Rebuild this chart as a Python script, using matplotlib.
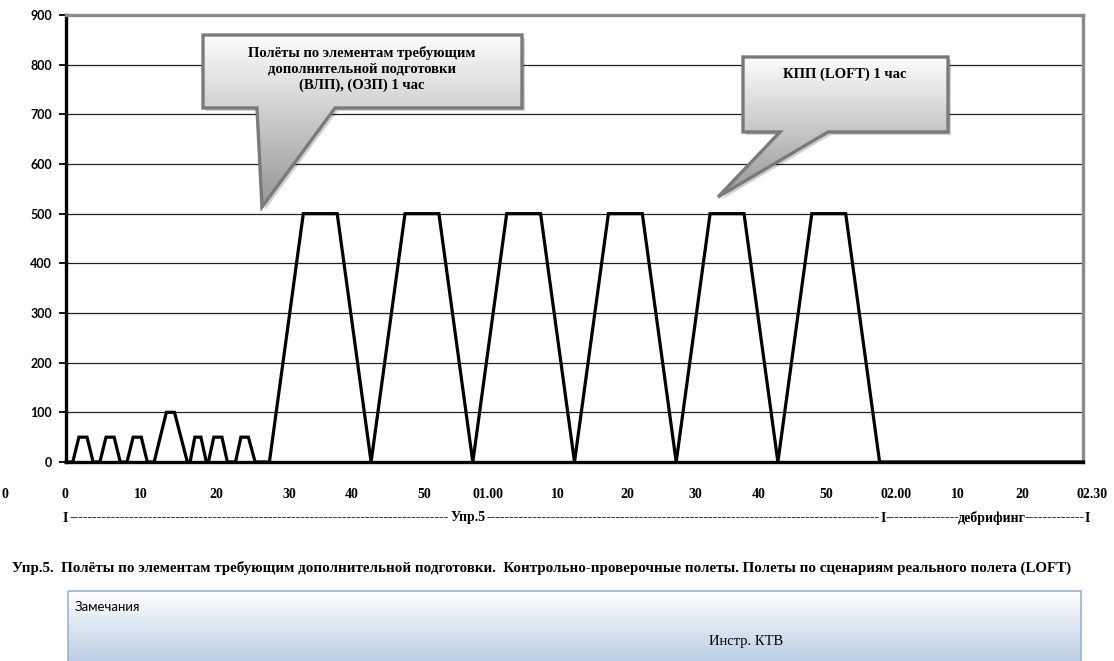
import numpy as np
import matplotlib
matplotlib.use("Agg")
from matplotlib import pyplot as plt
from matplotlib.patches import Polygon, Rectangle

W, H = 1114, 661

# data: simulator load over session time (minutes)
minutes = [0, 1, 1.9, 3.1, 4, 5, 5.9, 7.1, 8, 9, 9.9, 11.1, 12,
           13, 14.8, 16, 17.9, 18.3, 19, 19.9, 20.7, 21, 21.8, 23, 23.8,
           25, 25.8, 26.9, 27.9, 30, 35, 40, 45, 50, 55, 60, 65, 70, 75,
           80, 85, 90, 95, 100, 105, 110, 115, 120, 150]
load = [0, 0, 50, 50, 0, 0, 50, 50, 0, 0, 50, 50, 0,
        0, 100, 100, 0, 0, 50, 50, 0, 0, 50, 50, 0,
        0, 50, 50, 0, 0, 500, 500, 0, 500, 500, 0, 500, 500, 0,
        500, 500, 0, 500, 500, 0, 500, 500, 0, 0]

y_ticks = [0, 100, 200, 300, 400, 500, 600, 700, 800, 900]
time_labels = ["0", "0", "10", "20", "30", "40", "50", "01.00", "10", "20",
               "30", "40", "50", "02.00", "10", "20", "02.30"]
time_label_px = [5, 65, 141, 216, 289, 352, 424, 488, 558, 627,
                 695, 759, 826, 896, 958, 1022, 1092]

callout1 = "Полёты по элементам требующим\nдополнительной подготовки\n(ВЛП), (ОЗП) 1 час"
callout2 = "КПП (LOFT) 1 час"
caption = ("Упр.5.  Полёты по элементам требующим дополнительной подготовки.  "
           "Контрольно-проверочные полеты. Полеты по сценариям реального полета (LOFT)")

SERIF = "Liberation Serif"

fig = plt.figure(figsize=(W / 100, H / 100), dpi=100)
fig.patch.set_facecolor("white")

# main chart
ax = fig.add_axes([66 / W, 1 - 462 / H, (1083 - 66) / W, (462 - 15) / H])
ax.plot(minutes, load, color="black", lw=2.3, solid_joinstyle="miter", zorder=3, clip_on=False)
ax.set_xlim(0, 150)
ax.set_ylim(0, 900)
ax.set_yticks(y_ticks)
ax.set_yticklabels([str(v) for v in y_ticks], fontfamily="Lato", fontweight="bold", fontsize=9)
ax.set_xticks([])
ax.tick_params(axis="y", direction="out", length=5, width=1.3, pad=5, colors="black")
ax.yaxis.grid(True, color="#222222", lw=0.9)
ax.set_axisbelow(True)
for side in ["left", "bottom"]:
    ax.spines[side].set_linewidth(2.4)
    ax.spines[side].set_color("black")
for side in ["right", "top"]:
    ax.spines[side].set_linewidth(2.4)
    ax.spines[side].set_color("#8a8a8a")
ax.spines["bottom"].set_zorder(4)

# overlay in pixel coordinates for callouts and text
ov = fig.add_axes([0, 0, 1, 1], zorder=5)
ov.set_xlim(0, W)
ov.set_ylim(H, 0)
ov.axis("off")
ov.patch.set_alpha(0)


def gradient_shape(pts, top_col, bot_col, edge, lw, shadow=True):
    pts = np.array(pts, dtype=float)
    if shadow:
        sh = Polygon(pts + [3, 3], closed=True, fc="#000000", ec="none", alpha=0.18, zorder=1)
        ov.add_patch(sh)
    poly = Polygon(pts, closed=True, fc="none", ec=edge, lw=lw, zorder=3, joinstyle="miter")
    ov.add_patch(poly)
    y0, y1 = pts[:, 1].min(), pts[:, 1].max()
    x0, x1 = pts[:, 0].min(), pts[:, 0].max()
    g = np.linspace(0, 1, 256)[:, None, None]
    c0 = np.array(matplotlib.colors.to_rgb(top_col))
    c1 = np.array(matplotlib.colors.to_rgb(bot_col))
    img = c0 * (1 - g) + c1 * g
    im = ov.imshow(img, extent=[x0, x1, y1, y0], aspect="auto", zorder=2, interpolation="bilinear")
    clip = Polygon(pts, closed=True, transform=ov.transData)
    im.set_clip_path(clip)


gradient_shape([(203, 35), (522, 35), (522, 108), (335, 108), (262, 207), (257, 108), (203, 108)],
               "#fdfdfd", "#959595", "#7a7a7a", 2.4)
ov.text(362, 69, callout1, ha="center", va="center", fontfamily=SERIF, fontweight="bold",
        fontsize=10.5, linespacing=1.3, zorder=4)

gradient_shape([(743, 57), (948, 57), (948, 132), (828, 132), (718, 197), (780, 132), (743, 132)],
               "#fdfdfd", "#959595", "#7a7a7a", 2.4)
ov.text(845, 74, callout2, ha="center", va="center", fontfamily=SERIF, fontweight="bold",
        fontsize=10.5, zorder=4)

# time labels under the chart
for lab, px in zip(time_labels, time_label_px):
    ov.text(px, 495, lab, ha="center", va="center", fontfamily=SERIF, fontweight="bold", fontsize=10)

renderer = fig.canvas.get_renderer()
probe = ov.text(0, 0, "-" * 40, fontfamily=SERIF, fontweight="bold", fontsize=10)
dash_w = probe.get_window_extent(renderer).width / 40
probe.remove()


def dash_run(x0, x1, y):
    n = max(1, int(round((x1 - x0) / dash_w)))
    ov.text((x0 + x1) / 2, y, "-" * n, ha="center", va="center", fontfamily=SERIF,
            fontweight="bold", fontsize=10)


row_y = 518
for lab, px in [("I", 65), ("Упр.5", 468), ("I", 883), ("дебрифинг", 992), ("I", 1087)]:
    ov.text(px, row_y, lab, ha="center", va="center", fontfamily=SERIF, fontweight="bold", fontsize=10)
dash_run(69, 449, row_y)
dash_run(487, 880, row_y)
dash_run(886, 958, row_y)
dash_run(1026, 1084, row_y)

# caption, fitted to width
cap = ov.text(12, 568, caption, ha="left", va="center", fontfamily=SERIF, fontweight="bold", fontsize=10)
cw = cap.get_window_extent(renderer).width
cap.set_fontsize(10 * (1058 / cw))

# remarks box
bx0, bx1, by0, by1 = 68, 1081, 591, 664
g = np.linspace(0, 1, 256)[:, None, None]
c0 = np.array(matplotlib.colors.to_rgb("#ffffff"))
c1 = np.array(matplotlib.colors.to_rgb("#b9cce4"))
ov.imshow(c0 * (1 - g) + c1 * g, extent=[bx0, bx1, by1, by0], aspect="auto", zorder=1)
ov.add_patch(Rectangle((bx0, by0), bx1 - bx0, by1 - by0, fc="none", ec="#9db3d0", lw=1.2, zorder=2))
ov.text(75, 607, "Замечания", ha="left", va="center", fontfamily="Lato", fontsize=9.5, zorder=3)
ov.text(746, 641, "Инстр. КТВ", ha="center", va="center", fontfamily=SERIF, fontsize=10.5, zorder=3)

ov.set_xlim(0, W)
ov.set_ylim(H, 0)

fig.savefig("out.png", dpi=100, facecolor="white")
